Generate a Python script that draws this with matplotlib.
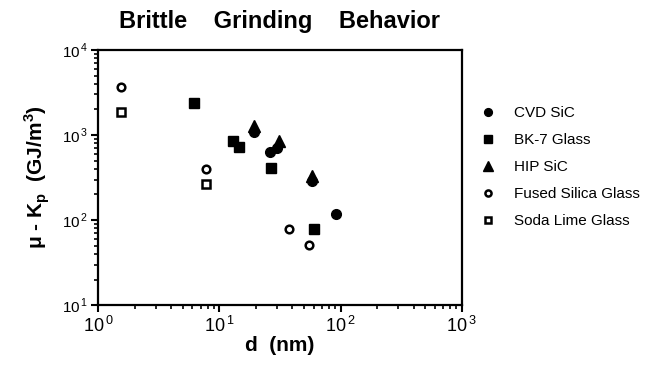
import numpy as np
import matplotlib
matplotlib.use("Agg")
import matplotlib.pyplot as plt
from matplotlib.ticker import LogLocator, NullFormatter, FuncFormatter

plt.rcParams["font.family"] = ["Liberation Sans", "DejaVu Sans"]
plt.rcParams["mathtext.fontset"] = "custom"
plt.rcParams["mathtext.rm"] = "Liberation Sans"
plt.rcParams["mathtext.bf"] = "Liberation Sans:bold"

# values (d in nm, mu-Kp in GJ/m^3)
cvd_d = [19.3, 26.2, 30.0, 58.5, 91.0]
cvd_k = [1080, 625, 700, 285, 117]
bk7_d = [6.2, 13.0, 14.5, 26.5, 60.7]
bk7_k = [2400, 850, 716, 412, 78]
hip_d = [19.3, 31.0, 58.5]
hip_k = [1270, 850, 330]
fused_d = [1.55, 7.7, 37.6, 55.2]
fused_k = [3700, 398, 78, 51]
soda_d = [1.55, 7.7]
soda_k = [1880, 265]

fig = plt.figure(figsize=(6.45, 3.65), dpi=100)
ax = fig.add_axes([0.152, 0.164, 0.564, 0.699])

ax.plot(cvd_d, cvd_k, "o", color="black", ms=7, label="CVD SiC")
ax.plot(bk7_d, bk7_k, "s", color="black", ms=7, label="BK-7 Glass")
ax.plot(hip_d, hip_k, "^", color="black", ms=9, label="HIP SiC")
ax.plot(fused_d, fused_k, "o", mfc="white", mec="black", mew=1.8, ms=5.5,
        label="Fused Silica Glass")
ax.plot(soda_d, soda_k, "s", mfc="white", mec="black", mew=1.8, ms=5.5,
        label="Soda Lime Glass")

ax.set_xscale("log")
ax.set_yscale("log")
ax.set_xlim(1, 1000)
ax.set_ylim(10, 10000)
pow10 = FuncFormatter(lambda v, p: r"10$^{\,%d}$" % round(np.log10(v)))
ax.xaxis.set_major_locator(LogLocator(base=10, numticks=5))
ax.yaxis.set_major_locator(LogLocator(base=10, numticks=5))
ax.xaxis.set_major_formatter(pow10)
ax.yaxis.set_major_formatter(pow10)
ax.xaxis.set_minor_locator(LogLocator(base=10, subs=np.arange(2, 10), numticks=20))
ax.yaxis.set_minor_locator(LogLocator(base=10, subs=np.arange(2, 10), numticks=20))
ax.xaxis.set_minor_formatter(NullFormatter())
ax.yaxis.set_minor_formatter(NullFormatter())

for s in ax.spines.values():
    s.set_linewidth(1.6)
ax.tick_params(which="major", direction="out", length=5, width=1.5)
ax.tick_params(which="minor", direction="out", length=3, width=1.2)
ax.tick_params(axis="x", labelsize=13, pad=3)
ax.tick_params(axis="y", labelsize=11, pad=2)

ax.set_xlabel("d  (nm)", fontsize=15, fontweight="bold", labelpad=0)
ax.set_ylabel(r"μ - K$_\mathbf{p}$  (GJ/m$^\mathbf{3}$)", fontsize=15,
              fontweight="bold", labelpad=7)
ax.set_title("Brittle    Grinding    Behavior", fontsize=17, fontweight="bold",
             pad=16)

ax.legend(loc="center left", bbox_to_anchor=(1.0, 0.54), frameon=False,
          fontsize=11, markerscale=0.8, handletextpad=0.9, labelspacing=0.85,
          handlelength=1.6)

fig.savefig("out.png", dpi=100)
